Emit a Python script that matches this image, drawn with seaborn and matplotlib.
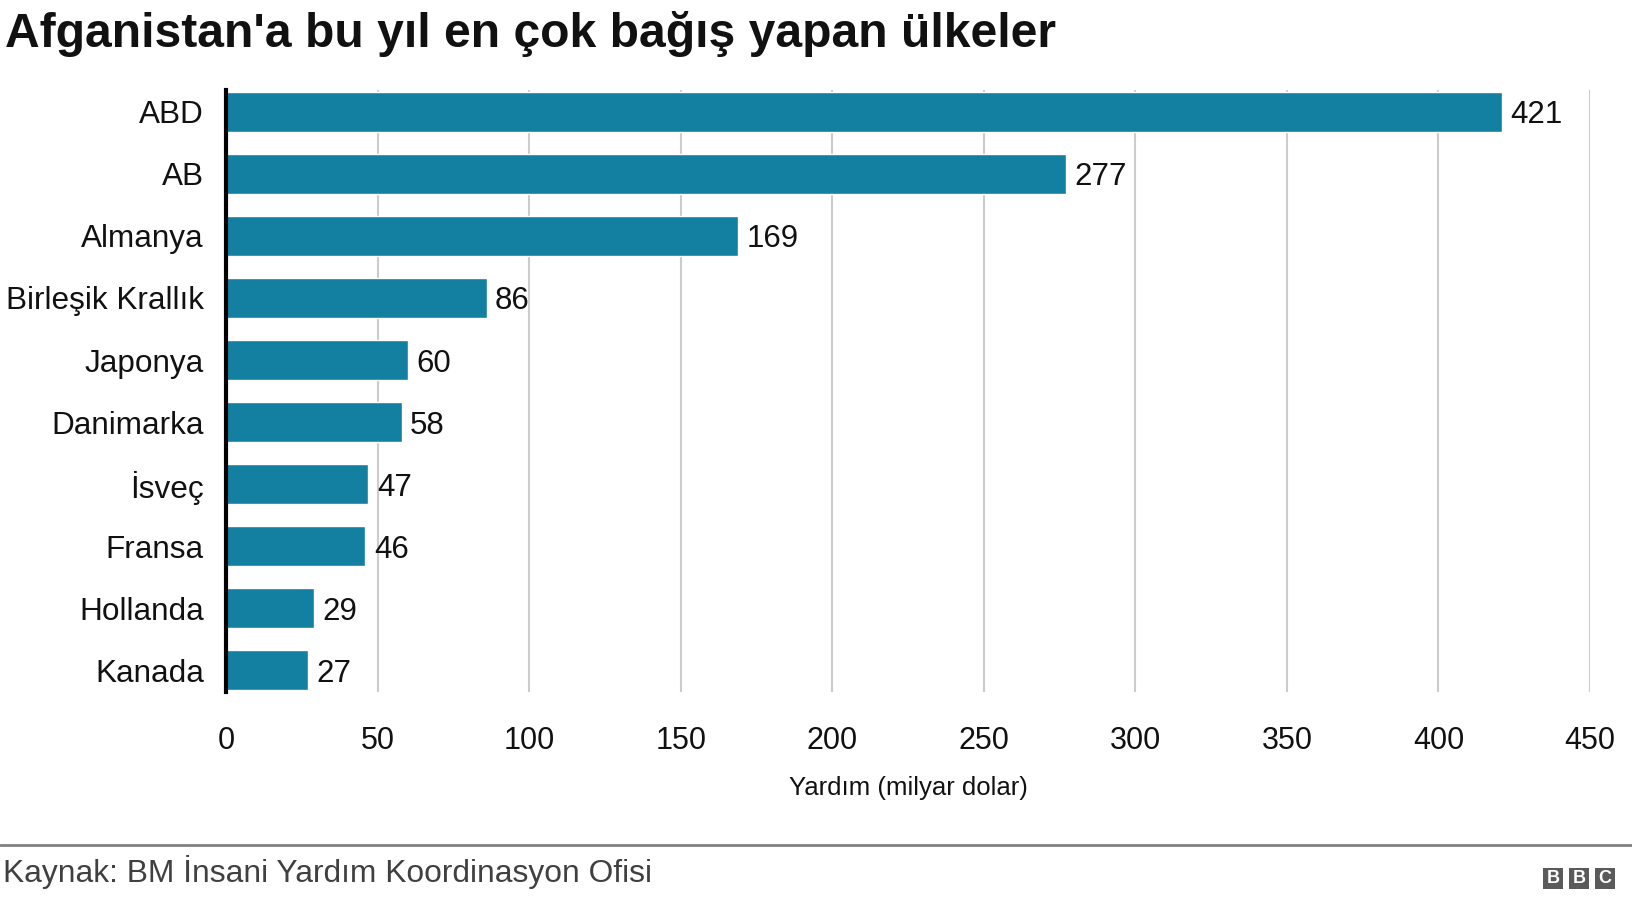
import matplotlib
matplotlib.use("Agg")
import matplotlib.pyplot as plt
import seaborn as sns
import pandas as pd
from matplotlib.patches import Rectangle
from matplotlib.lines import Line2D

countries = ["ABD", "AB", "Almanya", "Birleşik Krallık", "Japonya", "Danimarka",
             "İsveç", "Fransa", "Hollanda", "Kanada"]
values = [421, 277, 169, 86, 60, 58, 47, 46, 29, 27]
x_ticks = [0, 50, 100, 150, 200, 250, 300, 350, 400, 450]

title = "Afganistan'a bu yıl en çok bağış yapan ülkeler"
xlabel = "Yardım (milyar dolar)"
source = "Kaynak: BM İnsani Yardım Koordinasyon Ofisi"

sns.set_theme(style="white")
plt.rcParams['font.family'] = ['Liberation Sans', 'DejaVu Sans']

df = pd.DataFrame({"country": countries, "value": values})

fig = plt.figure(figsize=(16.32, 9), dpi=100)
ax = fig.add_axes([0.1385, 0.2314, 0.9743 - 0.1385, 0.8997 - 0.2314])

sns.barplot(data=df, y="country", x="value", color="#1380A1", width=0.66,
            saturation=1, ax=ax, orient="h")

ax.set_xlim(0, 450)
ax.set_ylim(9.35, -0.35)
ax.set_xticks(x_ticks)
ax.set_xticklabels([str(t) for t in x_ticks])
ax.xaxis.grid(True, color="#cccccc", linewidth=1.5)
ax.yaxis.grid(False)
ax.set_axisbelow(True)
for s in ["top", "right", "bottom"]:
    ax.spines[s].set_visible(False)
ax.spines["left"].set_color("black")
ax.spines["left"].set_linewidth(3)
ax.tick_params(axis="x", length=0, pad=25, labelsize=22, labelcolor="#111111")
ax.tick_params(axis="y", length=0, pad=16, labelsize=22.7, labelcolor="#111111")
ax.set_ylabel("")
ax.set_xlabel(xlabel, fontsize=18.5, color="#111111", labelpad=14)

for cont in ax.containers:
    texts = ax.bar_label(cont, labels=[str(v) for v in values], padding=6, fontsize=22.5,
                         color="#111111")
    for t in texts:
        t.set_verticalalignment("center_baseline")

fig.text(0.003, 0.962, title, fontsize=34.6, fontweight="bold", color="#111111",
         ha="left", va="center")

fig.add_artist(Line2D([0, 1], [1 - 845 / 900, 1 - 845 / 900], transform=fig.transFigure,
                      color="#808080", linewidth=2))
fig.text(0.002, 1 - 872 / 900, source, fontsize=22.9, color="#404040", ha="left", va="center")

# BBC logo
for i, letter in enumerate("BBC"):
    x0 = (1543 + i * 26) / 1632
    w = 20 / 1632
    y0 = 1 - 889 / 900
    h = 21 / 900
    fig.add_artist(Rectangle((x0, y0), w, h, transform=fig.transFigure,
                             facecolor="#5a5a5a", edgecolor="none"))
    fig.text(x0 + w / 2, y0 + h / 2, letter, fontsize=13, fontweight="bold",
             color="white", ha="center", va="center")

fig.savefig("out.png", dpi=100, facecolor="white")
